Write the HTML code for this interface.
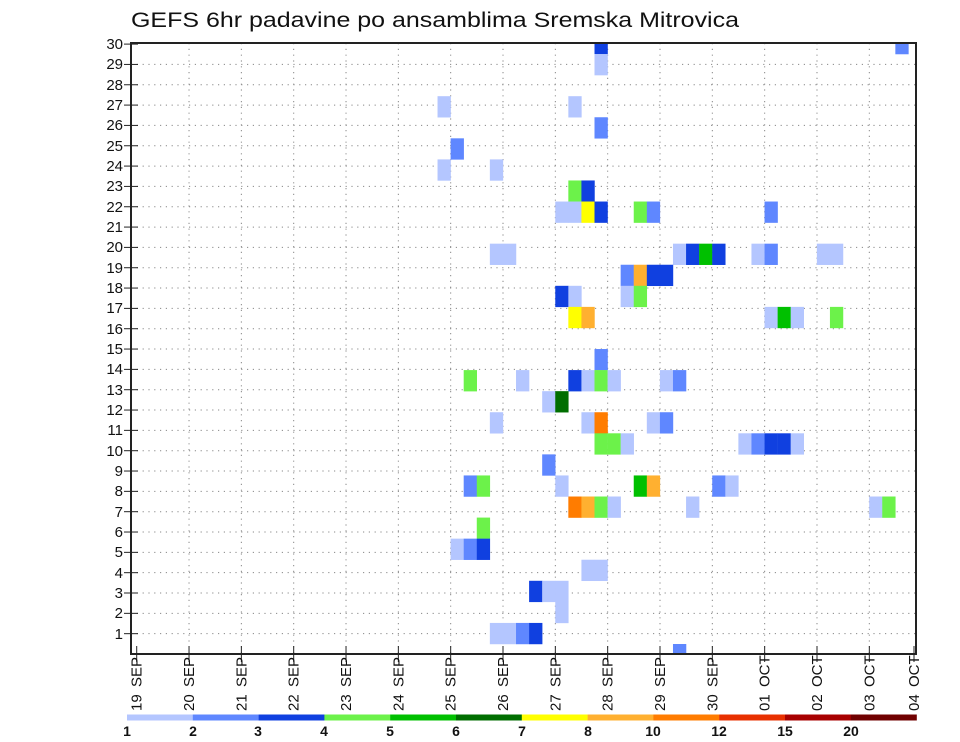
<!DOCTYPE html>
<html><head><meta charset="utf-8"><style>
html,body{margin:0;padding:0;background:#fff;}
svg{display:block;font-family:"Liberation Sans","DejaVu Sans",sans-serif;}
</style></head><body>
<svg id="s" width="960" height="742" viewBox="0 0 960 742" xmlns="http://www.w3.org/2000/svg">
<rect width="960" height="742" fill="#fff"/>
<text x="131" y="27" font-size="21" textLength="608" lengthAdjust="spacingAndGlyphs" fill="#111">GEFS 6hr padavine po ansamblima Sremska Mitrovica</text>
<defs><clipPath id="pc"><rect x="131" y="43" width="785" height="611"/></clipPath></defs>
<g id="grid" stroke="#888" stroke-width="1" stroke-dasharray="1.2,4.6"></g>
<g id="cells" clip-path="url(#pc)"></g>
<g id="ticks" stroke="#222" stroke-width="1"></g>
<rect x="131" y="43" width="785" height="611" fill="none" stroke="#222" stroke-width="2"/>
<g font-size="15" fill="#111" text-anchor="end">
<text x="123" y="49">30</text><text x="123" y="69">29</text><text x="123" y="90">28</text><text x="123" y="110">27</text><text x="123" y="130">26</text><text x="123" y="151">25</text><text x="123" y="171">24</text><text x="123" y="191">23</text><text x="123" y="212">22</text><text x="123" y="232">21</text><text x="123" y="252">20</text><text x="123" y="273">19</text><text x="123" y="293">18</text><text x="123" y="313">17</text><text x="123" y="334">16</text><text x="123" y="354">15</text><text x="123" y="374">14</text><text x="123" y="395">13</text><text x="123" y="415">12</text><text x="123" y="435">11</text><text x="123" y="456">10</text><text x="123" y="476">9</text><text x="123" y="496">8</text><text x="123" y="517">7</text><text x="123" y="537">6</text><text x="123" y="557">5</text><text x="123" y="578">4</text><text x="123" y="598">3</text><text x="123" y="618">2</text><text x="123" y="639">1</text>
</g>
<g id="xl" font-size="15" fill="#111"></g>
<g id="leg"></g>
<g font-size="14" font-weight="bold" fill="#111" text-anchor="middle">
<text x="127" y="736">1</text><text x="193" y="736">2</text><text x="258" y="736">3</text><text x="324" y="736">4</text><text x="390" y="736">5</text><text x="456" y="736">6</text><text x="522" y="736">7</text><text x="588" y="736">8</text><text x="653" y="736">10</text><text x="719" y="736">12</text><text x="785" y="736">15</text><text x="851" y="736">20</text>
</g>
</svg>
<script>
var NS="http://www.w3.org/2000/svg";
function el(p,t,a,txt){var e=document.createElementNS(NS,t);for(var k in a)e.setAttribute(k,a[k]);if(txt)e.textContent=txt;p.appendChild(e);return e;}
var g=document.getElementById('grid'),tk=document.getElementById('ticks');
for(var r=1;r<=30;r++){var y=654-20.33*r;if(r<30)el(g,'line',{x1:131,x2:916,y1:y,y2:y});el(tk,'line',{x1:124,x2:138,y1:y,y2:y});}
var nums=['19','20','21','22','23','24','25','26','27','28','29','30','01','02','03','04'];
var xl=document.getElementById('xl');
for(var d=0;d<16;d++){var x=136.7+52.33*d;if(d==15)x=914;
 if(d>0&&d<15)el(g,'line',{x1:x,x2:x,y1:43,y2:654});
 el(tk,'line',{x1:x,x2:x,y1:646,y2:662});
 el(xl,'text',{transform:'translate('+(x+5)+',687) rotate(-90)'},d<12?'SEP':'OCT');
 el(xl,'text',{transform:'translate('+(x+5)+',711) rotate(-90)'},nums[d]);}
var C={L:'#b4c6ff',M:'#5f87ff',D:'#1040e0',G:'#6cf24a',E:'#00c000',K:'#006e00',Y:'#ffff00',O:'#ffb030',R:'#ff7c00'};
var data=[
[29,35,'D'],[29,58,'M'],[28,35,'L'],[26,23,'L'],[26,33,'L'],[25,35,'M'],[24,24,'M'],[23,23,'L'],[23,27,'L'],
[22,33,'G'],[22,34,'D'],
[21,32,'L'],[21,33,'L'],[21,34,'Y'],[21,35,'D'],[21,38,'G'],[21,39,'M'],[21,48,'M'],
[19,27,'L'],[19,28,'L'],[19,41,'L'],[19,42,'D'],[19,43,'E'],[19,44,'D'],[19,47,'L'],[19,48,'M'],[19,52,'L'],[19,53,'L'],
[18,37,'M'],[18,38,'O'],[18,39,'D'],[18,40,'D'],
[17,32,'D'],[17,33,'L'],[17,37,'L'],[17,38,'G'],
[16,33,'Y'],[16,34,'O'],[16,48,'L'],[16,49,'E'],[16,50,'L'],[16,53,'G'],
[14,35,'M'],
[13,25,'G'],[13,29,'L'],[13,33,'D'],[13,34,'L'],[13,35,'G'],[13,36,'L'],[13,40,'L'],[13,41,'M'],
[12,31,'L'],[12,32,'K'],
[11,27,'L'],[11,34,'L'],[11,35,'R'],[11,39,'L'],[11,40,'M'],
[10,35,'G'],[10,36,'G'],[10,37,'L'],[10,46,'L'],[10,47,'M'],[10,48,'D'],[10,49,'D'],[10,50,'L'],
[9,31,'M'],
[8,25,'M'],[8,26,'G'],[8,32,'L'],[8,38,'E'],[8,39,'O'],[8,44,'M'],[8,45,'L'],
[7,33,'R'],[7,34,'O'],[7,35,'G'],[7,36,'L'],[7,42,'L'],[7,56,'L'],[7,57,'G'],
[6,26,'G'],[5,24,'L'],[5,25,'M'],[5,26,'D'],[4,34,'L'],[4,35,'L'],
[3,30,'D'],[3,31,'L'],[3,32,'L'],[2,32,'L'],
[1,27,'L'],[1,28,'L'],[1,29,'M'],[1,30,'D'],[0,41,'M']];
var ce=document.getElementById('cells');
data.forEach(function(c){el(ce,'rect',{x:136.7+13.08*c[1],y:644-21.07*c[0],width:13.3,height:21.3,fill:C[c[2]]});});
var lg=document.getElementById('leg');
var lc=['#b4c6ff','#5f87ff','#1040e0','#6cf24a','#00c000','#006e00','#ffff00','#ffb030','#ff7c00','#e83000','#a80000','#700000'];
for(var i=0;i<12;i++)el(lg,'rect',{x:127+65.8*i,y:714.5,width:66,height:6,fill:lc[i]});
</script>
</body></html>
